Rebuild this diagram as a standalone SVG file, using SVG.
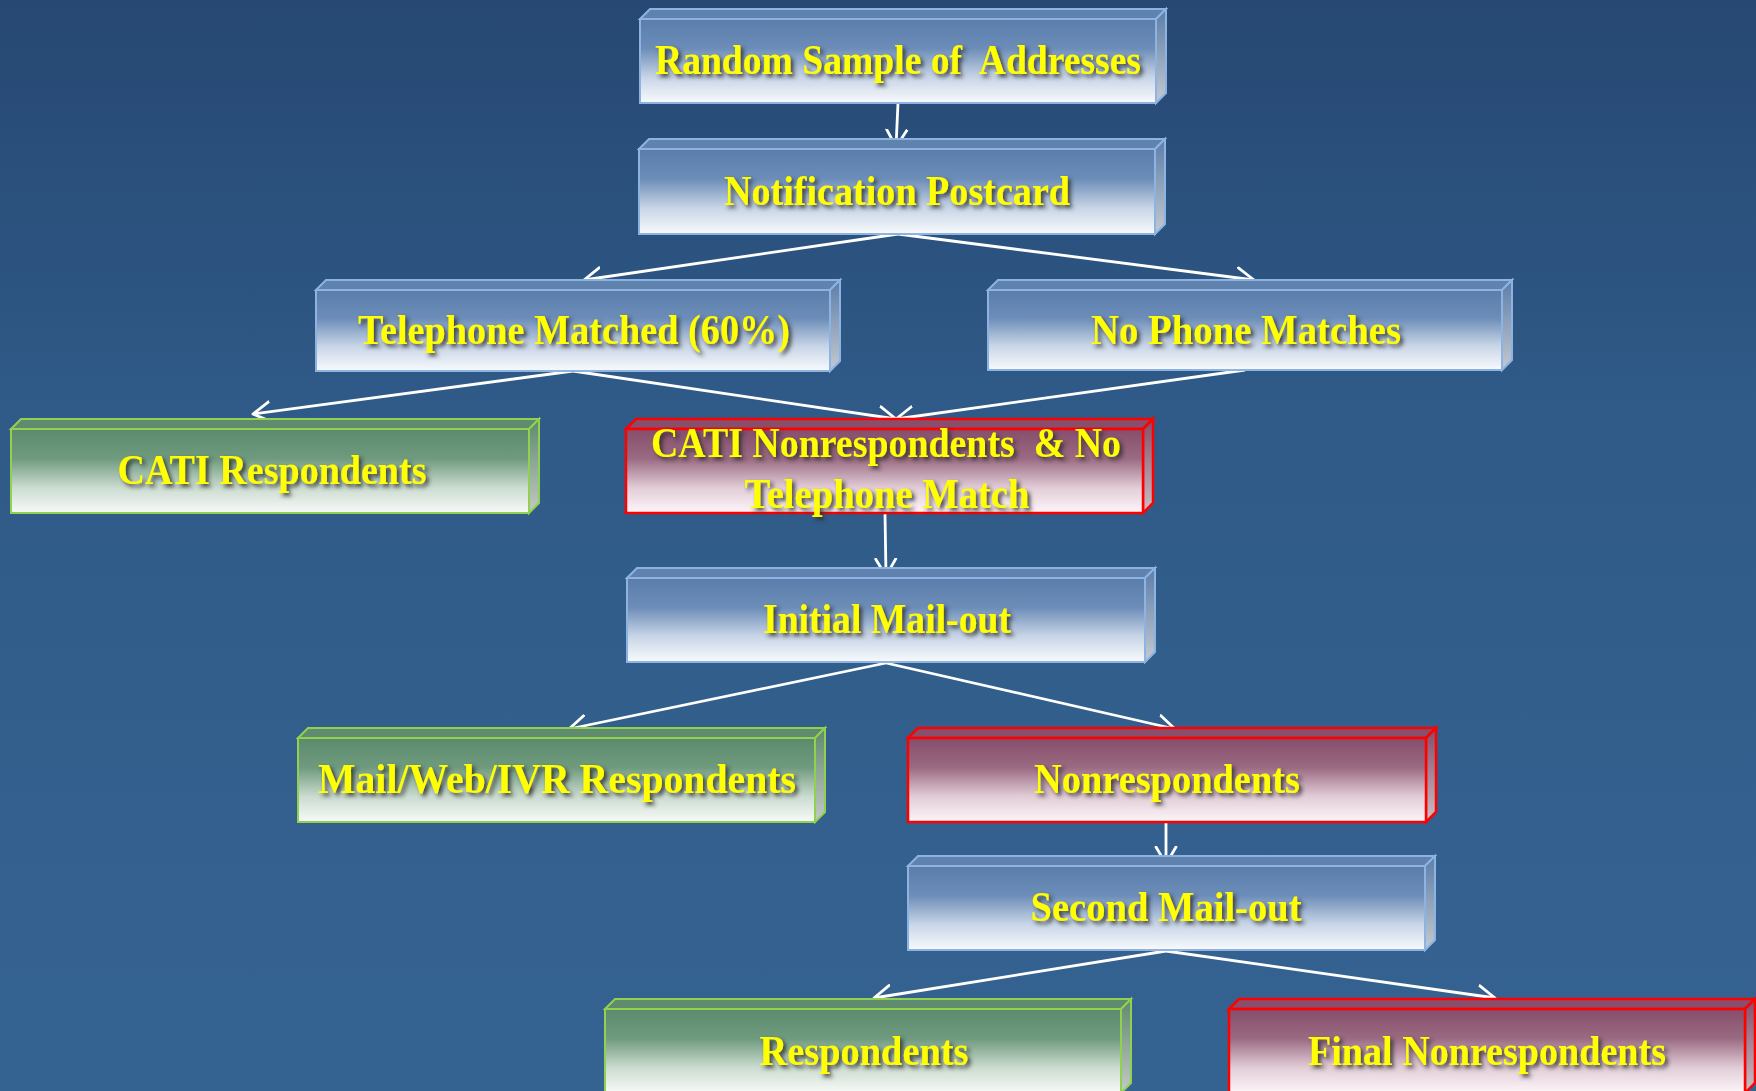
<svg xmlns="http://www.w3.org/2000/svg" width="1756" height="1091" viewBox="0 0 1756 1091">
<defs>
<linearGradient id="bg" x1="0" y1="0" x2="0" y2="1">
<stop offset="0" stop-color="#264872"/>
<stop offset="0.4" stop-color="#305b89"/>
<stop offset="1" stop-color="#356391"/>
</linearGradient>
<linearGradient id="gBlue" x1="0" y1="0" x2="0" y2="1">
<stop offset="0" stop-color="#5a7dab"/>
<stop offset="0.35" stop-color="#6c8db8"/>
<stop offset="0.7" stop-color="#c9d6e7"/>
<stop offset="1" stop-color="#f8fafc"/>
</linearGradient>
<linearGradient id="gGreen" x1="0" y1="0" x2="0" y2="1">
<stop offset="0" stop-color="#5b8b6c"/>
<stop offset="0.35" stop-color="#6f9a7e"/>
<stop offset="0.7" stop-color="#cbdcd0"/>
<stop offset="1" stop-color="#f8faf8"/>
</linearGradient>
<linearGradient id="gRed" x1="0" y1="0" x2="0" y2="1">
<stop offset="0" stop-color="#864d6a"/>
<stop offset="0.35" stop-color="#9a6a82"/>
<stop offset="0.7" stop-color="#e2cdd7"/>
<stop offset="1" stop-color="#fdf6f9"/>
</linearGradient>
<linearGradient id="sBlue" x1="0" y1="0" x2="0" y2="1">
<stop offset="0" stop-color="#5c7ea9"/>
<stop offset="1" stop-color="#c4c9d0"/>
</linearGradient>
<linearGradient id="sGreen" x1="0" y1="0" x2="0" y2="1">
<stop offset="0" stop-color="#5d8a6d"/>
<stop offset="1" stop-color="#c4c9c6"/>
</linearGradient>
<linearGradient id="sRed" x1="0" y1="0" x2="0" y2="1">
<stop offset="0" stop-color="#844c68"/>
<stop offset="1" stop-color="#c9c2c6"/>
</linearGradient>
<filter id="shadow" x="-10%" y="-30%" width="120%" height="160%">
<feDropShadow dx="3" dy="3" stdDeviation="2" flood-color="#2a2a2a" flood-opacity="0.85"/>
</filter>
<marker id="arr" viewBox="0 0 20 24" refX="18" refY="12" markerWidth="20" markerHeight="24" markerUnits="userSpaceOnUse" orient="auto">
<path d="M1,2 L18,12 L1,22" fill="none" stroke="#ffffff" stroke-width="2.8" stroke-linecap="round" stroke-linejoin="round"/>
</marker>
</defs>
<style>
.blue .front{fill:url(#gBlue);stroke:#8db3e2;stroke-width:2}
.blue .top{fill:#5f82ae;stroke:#8db3e2;stroke-width:2}
.blue .side{fill:url(#sBlue);stroke:#8db3e2;stroke-width:2}
.green .front{fill:url(#gGreen);stroke:#92d050;stroke-width:2}
.green .top{fill:#5f8b6f;stroke:#92d050;stroke-width:2}
.green .side{fill:url(#sGreen);stroke:#92d050;stroke-width:2}
.red .front{fill:url(#gRed);stroke:#ff0000;stroke-width:2.5}
.red .top{fill:#874f6b;stroke:#ff0000;stroke-width:2.5}
.red .side{fill:url(#sRed);stroke:#ff0000;stroke-width:2.5}
.lbl{font-family:"Liberation Serif","Times New Roman",serif;font-weight:bold;font-size:42px;fill:#ffff00;text-anchor:middle;filter:url(#shadow)}
.conn line{stroke:#ffffff;stroke-width:2.8;marker-end:url(#arr)}
</style>
<rect x="0" y="0" width="1756" height="1091" fill="url(#bg)"/>

<g id="connectors" class="conn">
<line x1="898" y1="103" x2="896" y2="147"/>
<line x1="898" y1="234" x2="584" y2="280"/>
<line x1="898" y1="234" x2="1254" y2="280"/>
<line x1="573" y1="371" x2="253" y2="414"/>
<line x1="573" y1="371" x2="896" y2="419"/>
<line x1="1245" y1="370" x2="896" y2="419"/>
<line x1="885" y1="513" x2="886" y2="576"/>
<line x1="886" y1="663" x2="569" y2="729"/>
<line x1="886" y1="663" x2="1175" y2="729"/>
<line x1="1166" y1="822" x2="1166" y2="864"/>
<line x1="1166" y1="951" x2="874" y2="998"/>
<line x1="1166" y1="951" x2="1495" y2="998"/>
</g>

<g id="random" class="blue">
<polygon class="top" points="640,19 650,9 1166,9 1156,19"/>
<polygon class="side" points="1156,19 1166,9 1166,93 1156,103"/>
<rect class="front" x="640" y="19" width="516" height="84"/>
<text class="lbl" x="898" y="74" textLength="486" lengthAdjust="spacingAndGlyphs" xml:space="preserve">Random Sample of  Addresses</text>
</g>

<g id="notification" class="blue">
<polygon class="top" points="639,149 649,139 1165,139 1155,149"/>
<polygon class="side" points="1155,149 1165,139 1165,224 1155,234"/>
<rect class="front" x="639" y="149" width="516" height="85"/>
<text class="lbl" x="897" y="205" textLength="346" lengthAdjust="spacingAndGlyphs">Notification Postcard</text>
</g>

<g id="telephone" class="blue">
<polygon class="top" points="316,290 326,280 840,280 830,290"/>
<polygon class="side" points="830,290 840,280 840,361 830,371"/>
<rect class="front" x="316" y="290" width="514" height="81"/>
<text class="lbl" x="574" y="344" textLength="432" lengthAdjust="spacingAndGlyphs">Telephone Matched (60%)</text>
</g>

<g id="nophone" class="blue">
<polygon class="top" points="988,290 998,280 1512,280 1502,290"/>
<polygon class="side" points="1502,290 1512,280 1512,360 1502,370"/>
<rect class="front" x="988" y="290" width="514" height="80"/>
<text class="lbl" x="1246" y="344" textLength="310" lengthAdjust="spacingAndGlyphs">No Phone Matches</text>
</g>

<g id="cati-resp" class="green">
<polygon class="top" points="11,429 21,419 539,419 529,429"/>
<polygon class="side" points="529,429 539,419 539,503 529,513"/>
<rect class="front" x="11" y="429" width="518" height="84"/>
<text class="lbl" x="272" y="484" textLength="309" lengthAdjust="spacingAndGlyphs">CATI Respondents</text>
</g>

<g id="cati-nonresp" class="red">
<polygon class="top" points="626,429 636,419 1153,419 1143,429"/>
<polygon class="side" points="1143,429 1153,419 1153,503 1143,513"/>
<rect class="front" x="626" y="429" width="517" height="84"/>
<text class="lbl" x="886" y="457" textLength="470" lengthAdjust="spacingAndGlyphs" xml:space="preserve">CATI Nonrespondents  &amp; No</text>
<text class="lbl" x="887" y="508" textLength="285" lengthAdjust="spacingAndGlyphs">Telephone Match</text>
</g>

<g id="initial" class="blue">
<polygon class="top" points="627,578 637,568 1155,568 1145,578"/>
<polygon class="side" points="1145,578 1155,568 1155,652 1145,662"/>
<rect class="front" x="627" y="578" width="518" height="84"/>
<text class="lbl" x="887" y="633" textLength="248" lengthAdjust="spacingAndGlyphs">Initial Mail-out</text>
</g>

<g id="mailweb" class="green">
<polygon class="top" points="298,738 308,728 825,728 815,738"/>
<polygon class="side" points="815,738 825,728 825,812 815,822"/>
<rect class="front" x="298" y="738" width="517" height="84"/>
<text class="lbl" x="557" y="793" textLength="478" lengthAdjust="spacingAndGlyphs">Mail/Web/IVR Respondents</text>
</g>

<g id="nonresp" class="red">
<polygon class="top" points="908,738 918,728 1436,728 1426,738"/>
<polygon class="side" points="1426,738 1436,728 1436,812 1426,822"/>
<rect class="front" x="908" y="738" width="518" height="84"/>
<text class="lbl" x="1167" y="793" textLength="266" lengthAdjust="spacingAndGlyphs">Nonrespondents</text>
</g>

<g id="second" class="blue">
<polygon class="top" points="908,866 918,856 1435,856 1425,866"/>
<polygon class="side" points="1425,866 1435,856 1435,940 1425,950"/>
<rect class="front" x="908" y="866" width="517" height="84"/>
<text class="lbl" x="1166" y="921" textLength="271" lengthAdjust="spacingAndGlyphs">Second Mail-out</text>
</g>

<g id="respondents" class="green">
<polygon class="top" points="605,1009 615,999 1131,999 1121,1009"/>
<polygon class="side" points="1121,1009 1131,999 1131,1083 1121,1093"/>
<rect class="front" x="605" y="1009" width="516" height="84"/>
<text class="lbl" x="864" y="1065" textLength="209" lengthAdjust="spacingAndGlyphs">Respondents</text>
</g>

<g id="final" class="red">
<polygon class="top" points="1229,1009 1239,999 1755,999 1745,1009"/>
<polygon class="side" points="1745,1009 1755,999 1755,1083 1745,1093"/>
<rect class="front" x="1229" y="1009" width="516" height="84"/>
<text class="lbl" x="1487" y="1065" textLength="358" lengthAdjust="spacingAndGlyphs">Final Nonrespondents</text>
</g>
</svg>
